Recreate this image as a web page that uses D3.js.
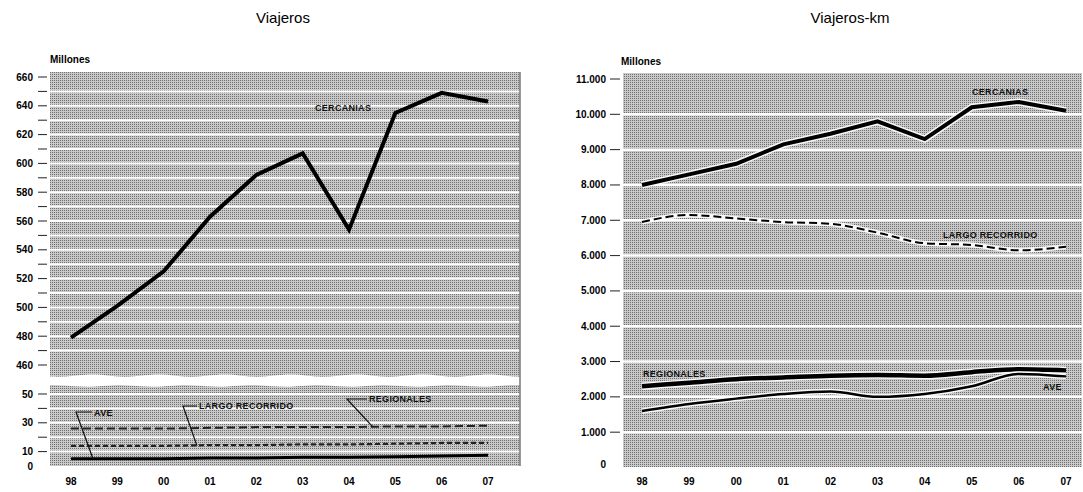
<!DOCTYPE html>
<html><head><meta charset="utf-8">
<script src="https://cdn.jsdelivr.net/npm/d3@7/dist/d3.min.js"></script>
<style>body{margin:0;background:#fff}svg{display:block}</style>
</head><body>
<svg id="c" width="1083" height="492"></svg>
<script>
const years = ["98","99","00","01","02","03","04","05","06","07"];
// Viajeros (millones)
const viajerosCercanias = [479, 501, 525, 563, 592, 607, 554, 635, 649, 643];
const viajerosRegionales = [26, 26, 26, 26.5, 27, 27, 27, 27.5, 27.5, 28];
const viajerosLargo = [14, 14, 14, 14.5, 14.5, 15, 15, 15.5, 16, 16];
const viajerosAve = [5, 5, 5, 5.5, 5.5, 6, 6, 6.5, 7, 7.5];
const upperTicks = [460, 480, 500, 520, 540, 560, 580, 600, 620, 640, 660];
const lowerTicks = [0, 10, 30, 50];
// Viajeros-km (millones)
const kmCercanias = [8000, 8300, 8600, 9150, 9450, 9800, 9300, 10200, 10350, 10100];
const kmLargo = [6950, 7150, 7050, 6950, 6900, 6650, 6350, 6300, 6150, 6250];
const kmRegionales = [2300, 2400, 2500, 2550, 2600, 2620, 2600, 2700, 2780, 2750];
const kmAve = [1600, 1800, 1950, 2080, 2150, 2000, 2080, 2300, 2650, 2580];
const kmTicks = [0,1000,2000,3000,4000,5000,6000,7000,8000,9000,10000,11000];

const svg = d3.select("#c");
const defs = svg.append("defs");
const pat = defs.append("pattern").attr("id","stip").attr("width",2).attr("height",2).attr("patternUnits","userSpaceOnUse");
pat.append("rect").attr("width",2).attr("height",2).attr("fill","#c9c9c9");
pat.append("rect").attr("width",1).attr("height",1).attr("fill","#6f6f6f");

const FONT = "'Liberation Sans', Arial, sans-serif";
const fmt = d => d3.format(",")(d).replace(/,/g,".");

// ---------- LEFT CHART ----------
const L = {x0:50, x1:520, top:72, bottom:466};
const xL = d3.scalePoint().domain(years).range([71, 488]);
const yUp = d3.scaleLinear().domain([460,660]).range([365,77]);
const yLow = d3.scaleLinear().domain([0,50]).range([466,394]);

defs.append("clipPath").attr("id","clipL").append("rect").attr("x",L.x0).attr("y",L.top).attr("width",L.x1-L.x0).attr("height",L.bottom-L.top);

const gL = svg.append("g");
const gLc = gL.append("g").attr("clip-path","url(#clipL)");
gLc.append("rect").attr("x",L.x0).attr("y",L.top).attr("width",L.x1-L.x0).attr("height",L.bottom-L.top).attr("fill","url(#stip)");
// white grid stripes
d3.range(470, 660, 10).forEach(v=>{
  gLc.append("line").attr("x1",L.x0).attr("x2",L.x1).attr("y1",yUp(v)).attr("y2",yUp(v)).attr("stroke","#fff").attr("stroke-width",2);
});
d3.range(10, 60, 10).forEach(v=>{
  gLc.append("line").attr("x1",L.x0).attr("x2",L.x1).attr("y1",yLow(v)).attr("y2",yLow(v)).attr("stroke","#fff").attr("stroke-width",2);
});
// break wave
const wx = d3.range(L.x0-20, L.x1+40, 22);
const waveTop = wx.map((x,i)=>[x, 376 + (i%3===0? -2.5 : i%3===1 ? 1.5 : 0)]);
const waveBot = wx.map((x,i)=>[x, 386 + (i%3===0? 1 : i%3===1 ? -2 : 0.5)]).reverse();
gLc.append("path").attr("d", d3.line().curve(d3.curveBasis)(waveTop) + "L" + d3.line().curve(d3.curveBasis)(waveBot).slice(1) + "Z")
  .attr("fill","#fff");
gL.append("line").attr("x1",L.x1).attr("x2",L.x1).attr("y1",L.top).attr("y2",L.bottom).attr("stroke","#777").attr("stroke-width",1.5);

// y ticks & labels
d3.range(460, 661, 10).forEach(v=>{
  gL.append("line").attr("x1",38).attr("x2",47).attr("y1",yUp(v)).attr("y2",yUp(v)).attr("stroke","#222").attr("stroke-width",1);
});
[10,20,30,40,50].forEach(v=>{
  gL.append("line").attr("x1",38).attr("x2",47).attr("y1",yLow(v)).attr("y2",yLow(v)).attr("stroke","#222").attr("stroke-width",1);
});
gL.selectAll("text.yu").data(upperTicks).join("text").attr("x",33).attr("y",d=>yUp(d)+3.5)
  .attr("text-anchor","end").attr("font-family",FONT).attr("font-size",10).attr("font-weight","bold").text(d=>d);
gL.selectAll("text.yl").data(lowerTicks).join("text").attr("x",33).attr("y",d=>yLow(d)+3.5)
  .attr("text-anchor","end").attr("font-family",FONT).attr("font-size",10).attr("font-weight","bold").text(d=>d);
gL.selectAll("text.x").data(years).join("text").attr("x",d=>xL(d)).attr("y",485)
  .attr("text-anchor","middle").attr("font-family",FONT).attr("font-size",10).attr("font-weight","bold").text(d=>d);

// lines
gL.append("path").datum(viajerosCercanias).attr("fill","none").attr("stroke","#000").attr("stroke-width",4).attr("stroke-linejoin","miter")
  .attr("d", d3.line().x((d,i)=>xL(years[i])).y(d=>yUp(d)));
gL.append("path").datum(viajerosRegionales).attr("fill","none").attr("stroke","#222").attr("stroke-width",2).attr("stroke-dasharray","8,4")
  .attr("d", d3.line().x((d,i)=>xL(years[i])).y(d=>yLow(d)));
gL.append("path").datum(viajerosLargo).attr("fill","none").attr("stroke","#222").attr("stroke-width",2.2).attr("stroke-dasharray","5,3")
  .attr("d", d3.line().x((d,i)=>xL(years[i])).y(d=>yLow(d)));
gL.append("path").datum(viajerosAve).attr("fill","none").attr("stroke","#000").attr("stroke-width",3)
  .attr("d", d3.line().x((d,i)=>xL(years[i])).y(d=>yLow(d)));

// labels & pointers
const lab = (g,x,y,t,anchor)=>g.append("text").attr("x",x).attr("y",y).attr("font-family",FONT).attr("font-size",9)
  .attr("font-weight","bold").attr("letter-spacing",0.3).attr("text-anchor",anchor||"start").attr("fill","#111").text(t);
lab(gL, 315, 111, "CERCANIAS");
lab(gL, 94, 416, "AVE");
lab(gL, 199, 409, "LARGO RECORRIDO");
lab(gL, 369, 402, "REGIONALES");
const ptr = (g,pts)=>g.append("path").attr("d",d3.line()(pts)).attr("fill","none").attr("stroke","#111").attr("stroke-width",1.2);
ptr(gL, [[92,412],[76,412],[93, yLow(viajerosAve[0])]]);
ptr(gL, [[197,406],[183,406],[197, yLow(viajerosLargo[2])]]);
ptr(gL, [[367,399],[347,399],[373, yLow(viajerosRegionales[6])]]);

svg.append("text").attr("x",283).attr("y",23).attr("text-anchor","middle").attr("font-family",FONT).attr("font-size",15).text("Viajeros");
svg.append("text").attr("x",50).attr("y",63).attr("font-family",FONT).attr("font-size",10).attr("font-weight","bold").text("Millones");

// ---------- RIGHT CHART ----------
const R = {x0:623, x1:1082, top:73, bottom:467};
const xR = d3.scalePoint().domain(years).range([642, 1066]);
const yR = d3.scaleLinear().domain([0,11000]).range([467.5, 79]);
const gR = svg.append("g");
gR.append("rect").attr("x",R.x0).attr("y",R.top).attr("width",R.x1-R.x0).attr("height",R.bottom-R.top).attr("fill","url(#stip)");
kmTicks.slice(1,11).forEach(v=>{
  gR.append("line").attr("x1",R.x0).attr("x2",R.x1).attr("y1",yR(v)).attr("y2",yR(v)).attr("stroke","#fff").attr("stroke-width",2.5);
});
kmTicks.slice(1).forEach(v=>{
  gR.append("line").attr("x1",610).attr("x2",620).attr("y1",yR(v)).attr("y2",yR(v)).attr("stroke","#222").attr("stroke-width",1);
});
gR.selectAll("text.y").data(kmTicks).join("text").attr("x",606).attr("y",d=>yR(d)+(d===0?0:3.5))
  .attr("text-anchor","end").attr("font-family",FONT).attr("font-size",10).attr("font-weight","bold").text(d=>fmt(d));
gR.selectAll("text.x").data(years).join("text").attr("x",d=>xR(d)).attr("y",485)
  .attr("text-anchor","middle").attr("font-family",FONT).attr("font-size",10).attr("font-weight","bold").text(d=>d);

const lineR = (data, curve)=>d3.line().curve(curve||d3.curveLinear).x((d,i)=>xR(years[i])).y(d=>yR(d))(data);
const drawR = (data, w, dash, curve)=>{
  gR.append("path").attr("d",lineR(data,curve)).attr("fill","none").attr("stroke","#fff").attr("stroke-width",w+3).attr("opacity",0.9);
  gR.append("path").attr("d",lineR(data,curve)).attr("fill","none").attr("stroke","#000").attr("stroke-width",w).attr("stroke-dasharray",dash||null);
};
drawR(kmCercanias, 4);
drawR(kmLargo, 2, "8,4", d3.curveMonotoneX);
drawR(kmRegionales, 4.5, null, d3.curveMonotoneX);
drawR(kmAve, 2.5, null, d3.curveMonotoneX);

lab(gR, 972, 95, "CERCANIAS");
lab(gR, 943, 238, "LARGO RECORRIDO");
lab(gR, 643, 377, "REGIONALES");
lab(gR, 1043, 390, "AVE");

svg.append("text").attr("x",850).attr("y",23).attr("text-anchor","middle").attr("font-family",FONT).attr("font-size",15).text("Viajeros-km");
svg.append("text").attr("x",621).attr("y",65).attr("font-family",FONT).attr("font-size",10).attr("font-weight","bold").text("Millones");
</script>
</body></html>
